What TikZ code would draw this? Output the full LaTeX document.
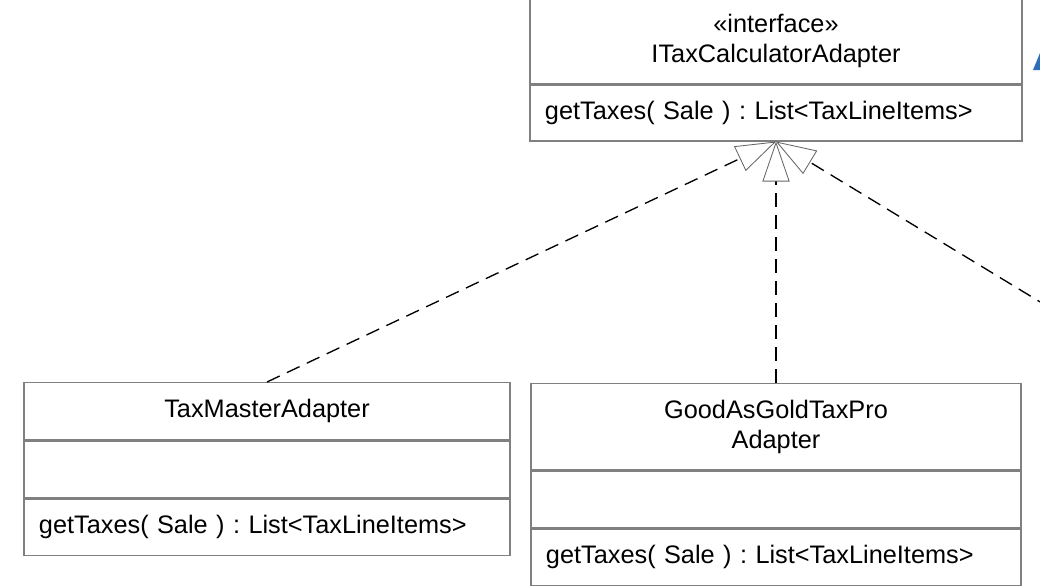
\documentclass[tikz,border=0pt]{standalone}
\usepackage{fontspec}
\setmainfont{Liberation Sans}
\usetikzlibrary{arrows.meta,positioning}
\definecolor{tipblue}{RGB}{46,110,182}
\frenchspacing

\begin{document}
\begin{tikzpicture}[x=0.025cm,y=-0.025cm,
        every node/.style={font=\fontsize{18}{21.5}\selectfont},
        part/.style={draw=black!50,line width=0.9pt,inner sep=0pt,align=center},
        ops/.style={part,align=left,inner xsep=0.375cm,minimum height=1.4cm},
        realize/.style={dash pattern=on 0.35cm off 0.2cm,line width=0.95pt,
            -{Triangle[open,length=1cm,width=0.68cm,line width=0.6pt,color=black!60]}}]
        \useasboundingbox (0,0) rectangle (1040,586);
        \clip (0,0) rectangle (1040,586);
        % interface
        \node[part,minimum width=12.3cm,minimum height=2.125cm,anchor=north] (iface) at (776,-2) {«interface»\\ITaxCalculatorAdapter};
        \node[ops,text width=11.55cm,below=0pt of iface] (ifaceops) {getTaxes( Sale ) : List<TaxLineItems>};
        % adapters
        \node[part,minimum width=12.15cm,minimum height=1.425cm,anchor=north] (tm) at (267,382) {TaxMasterAdapter};
        \node[part,minimum width=12.15cm,minimum height=1.425cm,below=0pt of tm] (tmattr) {};
        \node[ops,text width=11.4cm,below=0pt of tmattr] (tmops) {getTaxes( Sale ) : List<TaxLineItems>};
        \node[part,minimum width=12.25cm,minimum height=2.15cm,anchor=north] (gg) at (776,383) {GoodAsGoldTaxPro\\Adapter};
        \node[part,minimum width=12.25cm,minimum height=1.425cm,below=0pt of gg] (ggattr) {};
        \node[ops,text width=11.5cm,minimum height=1.4cm,below=0pt of ggattr] (ggops) {getTaxes( Sale ) : List<TaxLineItems>};
        \coordinate (offright) at (1200,399);
        \draw[realize] (tm.north) -- (ifaceops.south);
        \draw[realize] (gg.north) -- (ifaceops.south);
        \draw[realize] (offright) -- (ifaceops.south);
        \fill[tipblue] (1033,70) -- (1040,53) -- (1040,70) -- cycle;
\end{tikzpicture}
\end{document}
